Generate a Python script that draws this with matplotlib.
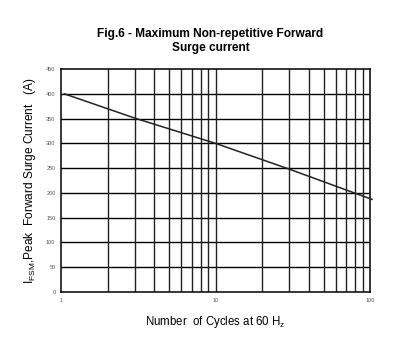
import numpy as np
import matplotlib.pyplot as plt

plt.rcParams['font.family'] = ['Liberation Sans', 'DejaVu Sans']
plt.rcParams['mathtext.default'] = 'regular'

# curve
cycles = [1.05, 3, 10, 30, 79, 103]
current = [400, 351, 300, 248, 200, 187]

yticks = [0, 50, 100, 150, 200, 250, 300, 350, 400, 450]
xticks = [1, 10, 100]

fig = plt.figure(figsize=(4.08, 3.54), dpi=100)
ax = fig.add_axes([0.1495, 0.175, 0.7575, 0.63])

ax.plot(cycles, current, color='#222222', lw=1.1, clip_on=False, zorder=3)

ax.set_xscale('log')
ax.set_xlim(1, 100)
ax.set_ylim(0, 450)
ax.set_yticks(yticks)
ax.set_xticks(xticks)
ax.set_xticklabels([str(t) for t in xticks])
ax.minorticks_off()

# grid: every 50 A and every cycle
for y in yticks[1:-1]:
    ax.axhline(y, color='black', lw=1.0, zorder=1)
for dec in (1, 10):
    for m in range(2, 10):
        ax.axvline(dec * m, color='#222222', lw=1.0, zorder=1)
ax.axvline(10, color='#222222', lw=1.0, zorder=1)

for s in ax.spines.values():
    s.set_linewidth(1.1)
ax.tick_params(length=0, labelsize=4, colors='#555555', pad=4)

ax.set_xlabel('Number  of Cycles at 60 H$_z$', fontsize=8.3, labelpad=8)
ax.set_ylabel('I$_{FSM}$,Peak  Forward Surge Current   (A)', fontsize=8.6, labelpad=6)
fig.text(0.516, 0.884, 'Fig.6 - Maximum Non-repetitive Forward\nSurge current',
         ha='center', va='center', fontsize=8.6, fontweight='bold', linespacing=1.15)

fig.savefig('out.png', dpi=100)
